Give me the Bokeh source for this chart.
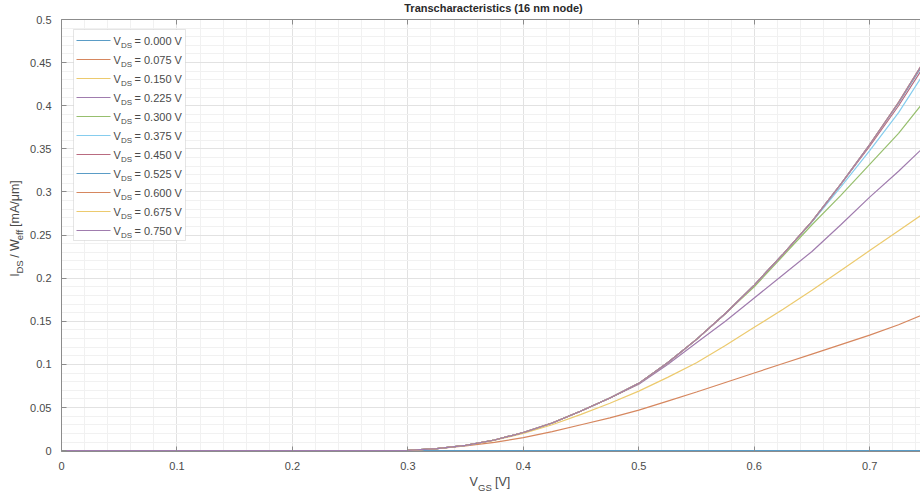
from bokeh.plotting import figure
from bokeh.layouts import column, row
from bokeh.models import Range1d, LinearAxis, FixedTicker, Label, BoxAnnotation, Arrow
from bokeh.embed import file_html
from bokeh.resources import INLINE

# ---------------- data ----------------
vgs = [0.0, 0.05, 0.10, 0.15, 0.20, 0.25, 0.275, 0.30, 0.325, 0.35, 0.375, 0.40, 0.425,
       0.45, 0.475, 0.50, 0.525, 0.55, 0.575, 0.60, 0.625, 0.65, 0.675, 0.70, 0.725, 0.75]

vds_labels = ["0.000", "0.075", "0.150", "0.225", "0.300", "0.375",
              "0.450", "0.525", "0.600", "0.675", "0.750"]

id_000 = [0.0] * 26
id_075 = [0, 0, 0, 0, 0, 0.0, 0.0001, 0.0004, 0.0022, 0.0055, 0.0095, 0.015, 0.022,
          0.030, 0.038, 0.047, 0.0575, 0.068, 0.079, 0.090, 0.101, 0.112, 0.123, 0.134, 0.146, 0.160]
id_150 = [0, 0, 0, 0, 0, 0.0, 0.0001, 0.0004, 0.0023, 0.006, 0.012, 0.020, 0.030,
          0.042, 0.055, 0.069, 0.085, 0.102, 0.122, 0.143, 0.164, 0.186, 0.209, 0.232, 0.255, 0.278]
id_225 = [0, 0, 0, 0, 0, 0.0, 0.0001, 0.0004, 0.0023, 0.0062, 0.0123, 0.021, 0.032,
          0.046, 0.061, 0.077, 0.100, 0.125, 0.150, 0.177, 0.204, 0.231, 0.262, 0.294, 0.324, 0.356]
id_300 = [0, 0, 0, 0, 0, 0.0, 0.0001, 0.0004, 0.0023, 0.0062, 0.0123, 0.021, 0.032,
          0.046, 0.061, 0.078, 0.102, 0.129, 0.159, 0.190, 0.226, 0.262, 0.296, 0.332, 0.368, 0.410]
id_375 = [0, 0, 0, 0, 0, 0.0, 0.0001, 0.0004, 0.0023, 0.0062, 0.0123, 0.021, 0.032,
          0.046, 0.061, 0.078, 0.102, 0.129, 0.159, 0.192, 0.228, 0.265, 0.306, 0.348, 0.392, 0.444]
id_450 = [0, 0, 0, 0, 0, 0.0, 0.0001, 0.0004, 0.0023, 0.0062, 0.0123, 0.021, 0.032,
          0.046, 0.061, 0.078, 0.102, 0.129, 0.159, 0.192, 0.228, 0.266, 0.309, 0.353, 0.400, 0.452]
id_525 = [0, 0, 0, 0, 0, 0.0, 0.0001, 0.0004, 0.0023, 0.0062, 0.0123, 0.021, 0.032,
          0.046, 0.061, 0.078, 0.102, 0.129, 0.159, 0.192, 0.228, 0.266, 0.309, 0.355, 0.403, 0.456]
id_600 = [0, 0, 0, 0, 0, 0.0, 0.0001, 0.0004, 0.0023, 0.0062, 0.0123, 0.021, 0.032,
          0.046, 0.061, 0.078, 0.102, 0.129, 0.159, 0.192, 0.228, 0.266, 0.309, 0.355, 0.404, 0.458]
id_675 = [0, 0, 0, 0, 0, 0.0, 0.0001, 0.0004, 0.0023, 0.0062, 0.0123, 0.021, 0.032,
          0.046, 0.061, 0.078, 0.102, 0.129, 0.159, 0.192, 0.228, 0.266, 0.309, 0.355, 0.404, 0.458]
id_750 = [0, 0, 0, 0, 0, 0.0, 0.0001, 0.0004, 0.0023, 0.0062, 0.0123, 0.021, 0.032,
          0.046, 0.061, 0.078, 0.102, 0.129, 0.159, 0.192, 0.228, 0.266, 0.309, 0.355, 0.404, 0.458]

series = [id_000, id_075, id_150, id_225, id_300, id_375,
          id_450, id_525, id_600, id_675, id_750]

x_ticks = [0.0, 0.1, 0.2, 0.3, 0.4, 0.5, 0.6, 0.7]
x_tick_labels = ["0", "0.1", "0.2", "0.3", "0.4", "0.5", "0.6", "0.7"]
y_ticks = [0.0, 0.05, 0.1, 0.15, 0.2, 0.25, 0.3, 0.35, 0.4, 0.45, 0.5]
y_tick_labels = ["0", "0.05", "0.1", "0.15", "0.2", "0.25", "0.3", "0.35", "0.4", "0.45", "0.5"]

title_text = "Transcharacteristics (16 nm node)"

# ---------------- style ----------------
colors = ["#5a9cc6", "#d6875f", "#ecca6e", "#a07cae", "#97bf6e", "#86cdee",
          "#b96b80", "#5a9cc6", "#d6875f", "#ecca6e", "#a07cae"]
FONT = "Liberation Sans"
TXT = "#4a4a4a"
AX = "#8c8c8c"
MID = 0.345            # distance (in em) from the 'middle' anchor down to the baseline

W, H = 920, 497
TITLE_H = 14           # title strip height
YLAB_W = 25            # y-label strip width
FL, FT, FB = 61, 19, 451   # frame left / top / bottom in page pixels
MAIN_BOTTOM = 474          # page y where the main figure ends
XR = (0.0, 0.744)
YR = (-0.001, 0.5)


def px2x(px):
    return XR[0] + (px - FL) * (XR[1] - XR[0]) / (W - FL)


def py2y(py):
    return YR[1] - (py - FT) * (YR[1] - YR[0]) / (FB - FT)


def strip(width, height):
    f = figure(width=width, height=height, x_range=Range1d(0, width), y_range=Range1d(0, height),
               output_backend="svg", toolbar_location=None, x_axis_type=None, y_axis_type=None,
               min_border=0)
    f.outline_line_color = None
    f.grid.visible = False
    f.background_fill_color = "white"
    f.border_fill_color = "white"
    return f


main_w = W - YLAB_W
main_h = MAIN_BOTTOM - TITLE_H
p = figure(width=main_w, height=main_h, x_range=Range1d(*XR), y_range=Range1d(*YR),
           output_backend="svg", toolbar_location=None,
           min_border_left=FL - YLAB_W, min_border_right=0, min_border_top=FT - TITLE_H,
           min_border_bottom=MAIN_BOTTOM - FB)
p.outline_line_color = None
p.background_fill_color = "white"
p.border_fill_color = "white"

x_minor = [round(i * 0.02, 2) for i in range(38)]
y_minor = [round(i * 0.01, 2) for i in range(51)]

xt = FixedTicker(ticks=x_ticks, minor_ticks=x_minor)
yt = FixedTicker(ticks=y_ticks, minor_ticks=y_minor)


def style_axis(ax, labels):
    ax.major_tick_in = 5
    ax.major_tick_out = 0
    ax.minor_tick_line_color = None
    ax.axis_line_color = AX
    ax.major_tick_line_color = AX
    ax.major_label_text_font = FONT
    ax.major_label_text_font_size = "11px"
    ax.major_label_text_color = TXT
    if labels is not None:
        ax.major_label_overrides = labels


p.xaxis.ticker = xt
p.yaxis.ticker = yt
style_axis(p.xaxis[0], {t: l for t, l in zip(x_ticks, x_tick_labels)})
style_axis(p.yaxis[0], {t: l for t, l in zip(y_ticks, y_tick_labels)})
p.xaxis.major_label_standoff = 6
p.yaxis.major_label_standoff = 6

top_ax = LinearAxis(ticker=xt)
style_axis(top_ax, {t: "" for t in x_ticks})
top_ax.major_label_text_font_size = "0px"
top_ax.major_label_standoff = 0
p.add_layout(top_ax, "above")

p.xgrid.ticker = xt
p.ygrid.ticker = yt
for g in (p.xgrid[0], p.ygrid[0]):
    g.grid_line_color = "#e2e2e2"
    g.minor_grid_line_color = "#f1f1f1"

# ---------------- curves ----------------
for s, c in zip(series, colors):
    p.line(vgs, s, line_color=c, line_width=1.2)

# ---------------- legend (manual, for subscripts) ----------------
p.add_layout(BoxAnnotation(left=px2x(73), right=px2x(185), top=py2y(29), bottom=py2y(240),
                           fill_color="white", fill_alpha=1.0, line_color="#a8a8a8",
                           line_width=1))
for i, (lab, c) in enumerate(zip(vds_labels, colors)):
    cy = 40 + 19 * i
    p.add_layout(Arrow(end=None, x_start=px2x(76), x_end=px2x(110),
                       y_start=py2y(cy), y_end=py2y(cy), line_color=c, line_width=1.2))
    for txt, fs, px, base in [("V", 11, 113, cy + 4), ("DS", 8, 120.5, cy + 7.5),
                              ("= " + lab + " V", 11, 134, cy + 4)]:
        p.add_layout(Label(x=px2x(px), y=py2y(base - MID * fs), text=txt, text_font=FONT,
                           text_font_size=f"{fs}px", text_color=TXT, text_baseline="middle"))

# ---------------- title strip ----------------
tf = strip(W, TITLE_H)
tf.add_layout(Label(x=493, y=TITLE_H - (11.6 - MID * 11), text=title_text, text_font=FONT,
                    text_font_size="11px", text_font_style="bold", text_color="#2a2a2a",
                    text_align="center", text_baseline="middle"))

# ---------------- x label strip: V_GS [V] ----------------
xf = strip(W, H - MAIN_BOTTOM)
for txt, fs, px, base in [("V", 12.5, 469, 486), ("GS", 9.5, 477.5, 490.5), ("[V]", 12.5, 494.5, 486)]:
    xf.add_layout(Label(x=px, y=H - (base - MID * fs), text=txt, text_font=FONT,
                        text_font_size=f"{fs}px", text_color=TXT, text_baseline="middle"))

# ---------------- y label strip: I_DS / W_eff [mA/um] (rotated) ----------------
yf = strip(YLAB_W, main_h)
ang = 1.5707963
bx_main, bx_sub = 18.5, 22.5
# (text, font size, baseline x, gap before, advance)
pieces = [("I", 12.5, bx_main, 0.0, 3.5), ("DS", 9.5, bx_sub, 0.0, 13.2),
          ("/ W", 12.5, bx_main, 3.5, 18.8), ("eff", 9.5, bx_sub, 0.0, 10.6),
          ("[mA/\u03bcm]", 12.5, bx_main, 3.5, 46.5)]
cur = MAIN_BOTTOM - 288
for txt, fs, bx, gap, adv in pieces:
    cur += gap
    yf.add_layout(Label(x=bx - MID * fs, y=cur, text=txt, text_font=FONT,
                        text_font_size=f"{fs}px", text_color=TXT, angle=ang,
                        text_baseline="middle"))
    cur += adv

layout = column(tf, row(yf, p), xf)
open("out.html", "w").write(file_html(layout, INLINE))
